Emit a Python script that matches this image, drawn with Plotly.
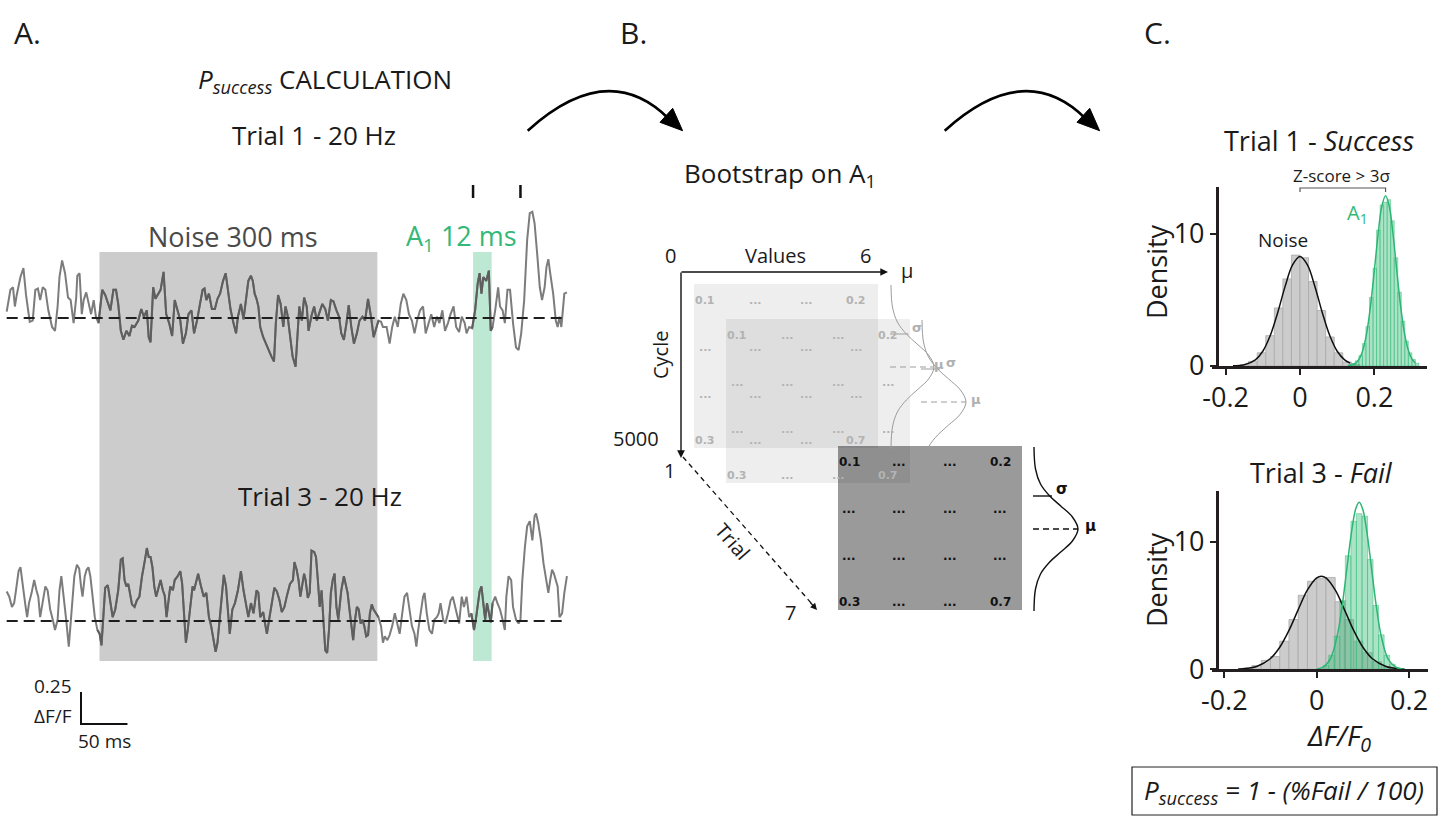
import plotly.graph_objects as go

W, H = 1448, 819
FONT = "Open Sans"
INK = "#1a1a1a"
GREEN = "#2bb673"
GREEN_TXT = "#33b878"

# ===================== DATA =====================
# Panel A - dF/F traces (time in ms, value in dF/F)
TRACE1_T = [7.2, 11.2, 14, 16, 18, 22, 25.2, 28, 32, 35.2,
            38, 40.8, 43.2, 46, 48.8, 52, 56, 59.2, 62, 64,
            66.8, 70, 73.2, 76, 79.2, 82, 83.2, 85.6, 88, 90,
            92.8, 95.2, 98, 100.8, 103.2, 106, 108, 110, 113.2, 116.8,
            118.8, 122, 124.8, 127.2, 130, 132.8, 136, 139.2, 142, 144.8,
            148.8, 152, 154.8, 158, 160, 162, 164.8, 167.2, 170, 172.8,
            176, 178.8, 182, 185.2, 188, 191.2, 194, 196.8, 200, 202.8,
            206, 208.8, 212, 215.2, 218, 220, 222, 224.8, 228, 231.2,
            234, 236.8, 240, 242.8, 245.2, 248, 251.2, 254, 256, 259.2,
            262, 264.8, 267.2, 270, 272, 274, 276, 278, 280, 283.2,
            286, 288.8, 292, 294.8, 296.8, 299.2, 302, 304.8, 307.2, 309.2,
            312, 314.8, 318, 320, 322, 324.8, 327.2, 330, 332, 335.2,
            338, 340.8, 344, 346.8, 350, 352.8, 356, 358.8, 362, 364.8,
            367.2, 370, 372.8, 375.2, 378, 380.8, 384, 386.8, 390, 392.8,
            396, 399.2, 402, 404.8, 407.2, 410, 412, 416, 419.2, 422,
            424.8, 428, 431.2, 434, 437.2, 440, 443.2, 446, 448.8, 452,
            455.2, 458, 460.8, 464, 467.2, 470, 472.8, 476, 478.8, 482,
            484.8, 488, 490.8, 494, 496.8, 500, 502, 504.8, 508, 511.2,
            514, 516, 518, 520, 523.2, 526, 528, 530, 532.8, 536,
            538, 540.8, 543.2, 546, 548.8, 552, 555.2, 558, 560.8, 564,
            567.2, 570, 572.8, 575.2, 578, 580.8, 583.2, 586, 588, 590,
            592, 595.2, 598, 600, 602, 604, 607.2, 610]
TRACE1_V = [0.05, 0.22, 0.24, 0.09, 0.18, 0.32, 0.39, 0.18, -0.03, -0.02,
            0.22, 0.23, 0.14, 0.24, 0.22, 0.06, -0.07, -0.10, 0.09, 0.32,
            0.45, 0.35, 0.16, 0.14, -0.04, 0.16, 0.33, 0.35, 0.03, 0.14,
            0.20, 0.11, 0.03, 0.14, 0.01, -0.04, 0.11, 0.22, 0.18, 0.10,
            0.06, 0.22, 0.22, 0.11, -0.10, -0.17, -0.10, -0.14, -0.06, -0.07,
            -0.02, 0.07, 0.01, 0.06, -0.15, -0.19, 0.24, 0.15, 0.19, 0.22,
            0.36, 0.03, -0.04, -0.14, 0.14, 0.06, -0.02, -0.20, -0.12, 0.03,
            0.06, -0.12, -0.02, 0.11, 0.22, 0.23, 0.14, 0.19, 0.07, 0.07,
            0.15, 0.19, 0.29, 0.35, 0.22, 0.07, -0.04, -0.12, 0.01, 0.11,
            -0.01, 0.16, 0.29, 0.33, 0.29, 0.19, 0.15, 0.09, -0.07, -0.15,
            -0.20, -0.25, -0.30, -0.34, -0.04, 0.18, 0.11, -0.07, 0.09, 0.03,
            -0.15, -0.30, -0.38, -0.10, 0.09, -0.02, 0.16, 0.09, -0.10, 0.02,
            0.09, -0.02, 0.06, 0.11, 0.07, -0.02, 0.14, 0.13, 0.06, 0.01,
            -0.12, -0.17, -0.04, 0.10, -0.07, -0.20, -0.12, -0.02, 0.01, -0.02,
            0.15, 0.01, -0.15, -0.07, -0.02, -0.03, -0.07, -0.07, -0.20, -0.07,
            0.01, -0.07, 0.11, 0.19, 0.14, 0.03, -0.02, -0.12, -0.02, 0.06,
            0.09, -0.12, -0.04, 0.03, -0.07, 0.01, -0.04, 0.06, -0.10, -0.04,
            0.03, 0.09, -0.07, -0.11, 0.01, -0.04, -0.12, -0.07, -0.08, 0.06,
            0.27, 0.35, 0.19, 0.32, 0.29, 0.37, -0.10, -0.07, 0.06, 0.24,
            0.09, 0.06, -0.04, 0.22, 0.22, -0.04, -0.23, -0.25, -0.12, 0.14,
            0.61, 0.82, 0.83, 0.74, 0.50, 0.24, 0.14, 0.24, 0.40, 0.46,
            0.35, 0.19, -0.02, -0.07, 0.01, -0.07, 0.19, 0.20]

TRACE3_T = [7.2, 10, 12.8, 15.2, 17.2, 20, 22, 24.8, 27.2, 29.2,
            31.2, 34, 36.8, 39.2, 41.2, 43.2, 46, 48.8, 51.2, 54,
            56.8, 59.2, 62, 64, 66, 68.8, 71.2, 74, 76, 78,
            80, 82.8, 85.2, 87.2, 88.8, 91.2, 93.2, 95.2, 97.2, 99.2,
            102, 104.8, 107.2, 109.2, 111.2, 113.2, 116, 118.8, 121.2, 124,
            127.2, 130, 132, 134, 136, 138, 140, 142, 144.8, 147.2,
            150, 152.8, 156, 158, 160, 162, 164, 166, 168, 170,
            172.8, 175.2, 177.2, 179.2, 180.8, 183.2, 186, 188, 191.2, 194,
            196, 198, 200, 202, 204.8, 207.2, 208.8, 211.2, 213.2, 216,
            219.2, 222, 224.8, 227.2, 230, 232, 234, 236.8, 239.2, 240.8,
            243.2, 244.8, 247.2, 250, 252.8, 256, 259.2, 262, 264.8, 267.2,
            270, 272.8, 276, 278, 280, 283.2, 285.2, 287.2, 290, 292.8,
            295.2, 298, 300.8, 303.2, 306, 308.8, 312, 315.2, 316.8, 319.2,
            321.2, 323.2, 324.8, 327.2, 328.8, 331.2, 333.2, 335.2, 338, 340,
            342, 344, 346, 348, 350, 352, 354, 356, 358, 360,
            362, 364, 367.2, 370, 372, 374, 376, 378, 380, 382,
            384, 386, 388, 390, 392, 394, 396, 398, 400, 402,
            404.8, 407.2, 410, 412, 414, 416.8, 419.2, 422, 424.8, 427.2,
            430, 432.8, 435.2, 438, 440, 443.2, 446, 448, 450, 452.8,
            455.2, 456.8, 459.2, 462, 464.8, 467.2, 470, 472, 474, 476.8,
            479.2, 482, 484.8, 487.2, 488.8, 491.2, 494, 496.8, 499.2, 502,
            504.8, 507.2, 510, 512, 514, 516, 518, 520, 522, 524,
            526, 528, 530, 532.8, 535.2, 538, 540.8, 543.2, 544.8, 547.2,
            550, 552, 555.2, 558, 560, 562, 564.8, 567.2, 570, 572.8,
            575.2, 576.8, 579.2, 582, 584.8, 587.2, 590, 592, 594, 596,
            598, 600, 602, 604.8, 607.2, 610]
TRACE3_V = [0.23, 0.19, 0.11, 0.14, 0.24, 0.39, 0.42, 0.24, 0.13, 0.03,
            0.14, 0.22, 0.32, 0.24, 0.19, 0.03, 0.16, 0.27, 0.24, 0.09,
            0.01, -0.07, 0.01, 0.24, 0.35, 0.19, 0.01, -0.20, 0.01, 0.19,
            0.35, 0.44, 0.41, 0.27, 0.19, 0.35, 0.40, 0.42, 0.35, 0.22,
            0.03, -0.07, -0.10, -0.19, 0.01, 0.26, 0.28, 0.14, 0.03, 0.09,
            0.24, 0.48, 0.49, 0.32, 0.27, 0.29, 0.19, 0.13, 0.11, 0.16,
            0.19, 0.35, 0.48, 0.57, 0.50, 0.50, 0.42, 0.27, 0.19, 0.24,
            0.32, 0.24, 0.20, 0.03, 0.11, 0.27, 0.24, 0.32, 0.35, 0.39,
            0.29, 0.06, -0.17, -0.07, 0.09, 0.27, 0.24, 0.32, 0.37, 0.28,
            0.19, 0.22, 0.03, -0.04, -0.15, -0.24, -0.17, 0.06, 0.24, 0.36,
            0.27, 0.14, -0.10, 0.09, 0.14, 0.24, 0.39, 0.24, 0.11, 0.03,
            0.14, 0.06, 0.24, 0.22, 0.03, 0.07, -0.02, -0.10, 0.03, 0.16,
            0.26, 0.23, 0.16, 0.07, 0.11, 0.20, 0.29, 0.32, 0.46, 0.40,
            0.32, 0.19, 0.27, 0.37, 0.32, 0.18, 0.22, 0.55, 0.54, 0.50,
            0.32, 0.11, 0.24, -0.02, -0.23, -0.25, -0.07, 0.22, 0.32, 0.37,
            0.11, 0.01, 0.24, 0.35, 0.27, 0.22, 0.09, -0.02, -0.15, 0.01,
            0.11, 0.09, -0.02, 0.01, -0.04, -0.12, -0.11, 0.06, 0.13, 0.09,
            0.06, 0.03, -0.04, -0.17, -0.12, -0.15, -0.11, -0.04, 0.06, -0.02,
            -0.10, 0.06, 0.19, 0.22, 0.11, -0.04, -0.10, -0.20, -0.07, 0.06,
            0.19, 0.22, 0.06, -0.07, -0.10, 0.01, 0.03, 0.06, 0.14, 0.01,
            -0.02, 0.06, 0.16, 0.19, 0.14, 0.06, -0.02, 0.19, 0.11, 0.19,
            0.03, 0.06, -0.07, 0.01, 0.14, 0.23, 0.27, 0.11, 0.01, 0.14,
            0.06, -0.01, 0.14, 0.19, 0.14, 0.09, 0.01, -0.07, 0.19, 0.35,
            0.32, 0.11, 0.01, -0.02, 0.01, 0.32, 0.58, 0.74, 0.78, 0.63,
            0.82, 0.84, 0.76, 0.63, 0.45, 0.35, 0.22, 0.32, 0.40, 0.37,
            0.32, 0.27, 0.03, 0.06, 0.22, 0.35]

NOISE_WIN_MS = [107, 406]      # 300 ms noise window
A1_WIN_MS = [509, 529]         # A1 window
STIM_MS = [509, 560]           # 20 Hz stimulation ticks
SCALE_MS = 50
SCALE_DFF = 0.25

# Panel B - bootstrap matrices (cell labels) and trial/cycle axes
MATRIX_VALUES = [["0.1", "...", "...", "0.2"],
                 ["...", "...", "...", "..."],
                 ["...", "...", "...", "..."],
                 ["0.3", "...", "...", "0.7"]]
VALUES_AXIS = ["0", "Values", "6"]
CYCLE_AXIS = ["5000", "1"]
TRIAL_AXIS = ["1", "7"]
# schematic gaussian profile beside each matrix (offset along y, bulge in x), px
GAUSS_DY = [-82, -60, -45, -33, -23, -12, 0, 12, 23, 33, 45, 60, 82]
GAUSS_DX = [0, 1.5, 6.5, 15.7, 26.7, 38.4, 44, 38.4, 26.7, 15.7, 6.5, 1.5, 0]

# Panel C - Trial 1 histograms (dF/F0, density)
T1_NOISE_BINW = 0.023
T1_NOISE_X = [-0.1495, -0.1265, -0.1035, -0.0805, -0.0575, -0.0345, -0.0115,
              0.0115, 0.0345, 0.0575, 0.0805, 0.1035, 0.1265, 0.1495]
T1_NOISE_Y = [0.1, 0.35, 1.0, 2.3, 4.4, 6.6, 8.4, 8.2, 6.4, 4.2, 2.2, 1.0, 0.3, 0.1]
T1_A1_BINW = 0.0095
T1_A1_X = [0.1345, 0.144, 0.1535, 0.163, 0.1725, 0.182, 0.1915, 0.201, 0.2105, 0.22,
           0.2295, 0.239, 0.2485, 0.258, 0.2675, 0.277, 0.2865, 0.296, 0.3055, 0.315]
T1_A1_Y = [0.1, 0.2, 0.4, 0.8, 1.7, 3.0, 5.2, 7.4, 10.3, 12.2,
           12.4, 12.6, 11.0, 8.2, 5.6, 3.4, 1.9, 1.0, 0.5, 0.2]
T1_NOISE_FIT_X = [-0.18, -0.15, -0.12, -0.10, -0.08, -0.06, -0.04, -0.02, 0.0,
                  0.02, 0.04, 0.06, 0.08, 0.10, 0.12, 0.135]
T1_NOISE_FIT_Y = [0.01, 0.09, 0.47, 1.12, 2.31, 4.04, 6.03, 7.66, 8.3,
                  7.66, 6.03, 4.04, 2.31, 1.12, 0.47, 0.22]
T1_A1_FIT_X = [0.13, 0.15, 0.16, 0.17, 0.18, 0.19, 0.20, 0.21, 0.22, 0.23,
               0.24, 0.25, 0.26, 0.27, 0.28, 0.29, 0.30, 0.31]
T1_A1_FIT_Y = [0.02, 0.22, 0.57, 1.3, 2.62, 4.65, 7.27, 10.0, 12.1, 12.9,
               12.1, 10.0, 7.27, 4.65, 2.62, 1.3, 0.57, 0.22]
T1_MEANS = [0.0, 0.23]

# Panel C - Trial 3 histograms
T3_NOISE_BINW = 0.02
T3_NOISE_X = [-0.15, -0.13, -0.11, -0.09, -0.07, -0.05, -0.03, -0.01, 0.01,
              0.03, 0.05, 0.07, 0.09, 0.11, 0.13, 0.15, 0.17]
T3_NOISE_Y = [0.1, 0.3, 0.7, 1.0, 2.2, 3.9, 5.8, 6.9, 7.1, 7.2, 5.3, 3.9, 2.2, 1.3, 0.6, 0.2, 0.1]
T3_A1_BINW = 0.012
T3_A1_X = [0.020, 0.032, 0.044, 0.056, 0.068, 0.080, 0.092, 0.104, 0.116, 0.128,
           0.140, 0.152, 0.164, 0.176]
T3_A1_Y = [0.3, 1.1, 2.6, 5.4, 8.9, 11.6, 12.2, 12.0, 8.6, 5.0, 2.7, 1.1, 0.4, 0.1]
T3_NOISE_FIT_X = [-0.17, -0.15, -0.13, -0.10, -0.08, -0.06, -0.04, -0.02, 0.0, 0.01,
                  0.02, 0.04, 0.06, 0.08, 0.10, 0.12, 0.15, 0.17, 0.19]
T3_NOISE_FIT_Y = [0.02, 0.08, 0.22, 0.85, 1.73, 3.05, 4.68, 6.22, 7.17, 7.3,
                  7.17, 6.22, 4.68, 3.05, 1.73, 0.85, 0.22, 0.08, 0.02]
T3_A1_FIT_X = [0.0, 0.015, 0.03, 0.045, 0.055, 0.065, 0.075, 0.085, 0.092, 0.10,
               0.11, 0.12, 0.13, 0.14, 0.155, 0.175, 0.19]
T3_A1_FIT_Y = [0.03, 0.19, 0.85, 2.72, 4.94, 7.8, 10.66, 12.65, 13.1, 12.5,
               10.4, 7.5, 4.69, 2.54, 0.78, 0.1, 0.01]

# ===================== LAYOUT GEOMETRY (pixels) =====================
def fx(p):
    return p / W

def fy(p):
    return 1 - p / H

PX_PER_MS = 0.9294
PX_PER_DFF = 128.0
TR_X_PX = (0, 580)
TOP_BASE, TOP_DOM = 318, (170, 382)
BOT_BASE, BOT_DOM = 621, (470, 745)
TRACE_LIGHT, TRACE_DARK = "#7c7c7c", "#5e5e5e"

fig = go.Figure()

# ---------- Panel A traces ----------
def window_part(ts, vs, win):
    # the part of a trace that lies inside an analysis window (drawn darker over the window)
    xs, ys = [], []
    for t, v in zip(ts, vs):
        if win[0] - 3 <= t <= win[1] + 3:
            xs.append(t)
            ys.append(v)
    return xs, ys

for ts, vs, ax, ay in ((TRACE1_T, TRACE1_V, "x2", "y2"), (TRACE3_T, TRACE3_V, "x3", "y3")):
    fig.add_trace(go.Scatter(x=ts, y=vs, xaxis=ax, yaxis=ay, mode="lines",
                             line=dict(color=TRACE_LIGHT, width=2), hoverinfo="skip"))
    for win in (NOISE_WIN_MS, A1_WIN_MS):
        wx, wy = window_part(ts, vs, win)
        fig.add_trace(go.Scatter(x=wx, y=wy, xaxis=ax, yaxis=ay, mode="lines",
                                 line=dict(color=TRACE_DARK, width=2), hoverinfo="skip"))
    fig.add_trace(go.Scatter(x=[ts[0], ts[-1]], y=[0, 0], xaxis=ax, yaxis=ay,
                             mode="lines", line=dict(color="#1e1e1e", width=2, dash="11px,6px")))

# stimulus ticks above trial 1
tick_lo, tick_hi = (TOP_BASE - 198) / PX_PER_DFF, (TOP_BASE - 185) / PX_PER_DFF
sx, sy = [], []
for s in STIM_MS:
    sx += [s, s, None]
    sy += [tick_lo, tick_hi, None]
fig.add_trace(go.Scatter(x=sx, y=sy, xaxis="x2", yaxis="y2", mode="lines",
                         line=dict(color="#111", width=2.5)))
# scale bar
sb_t0 = 81 / PX_PER_MS
sb_v0 = (BOT_BASE - 724) / PX_PER_DFF
fig.add_trace(go.Scatter(x=[sb_t0, sb_t0, sb_t0 + SCALE_MS], y=[sb_v0 + SCALE_DFF, sb_v0, sb_v0],
                         xaxis="x3", yaxis="y3", mode="lines", line=dict(color="#111", width=2)))

# ---------- Panel C histograms ----------
def hist(xs, ys, w, ax, ay, color, lcolor):
    fig.add_trace(go.Bar(x=xs, y=ys, width=w, xaxis=ax, yaxis=ay,
                         marker=dict(color=color, line=dict(color=lcolor, width=0.8))))

def fit(xs, ys, ax, ay, color):
    fig.add_trace(go.Scatter(x=xs, y=ys, xaxis=ax, yaxis=ay, mode="lines",
                             line=dict(color=color, width=1.5, shape="spline")))

hist(T1_NOISE_X, T1_NOISE_Y, T1_NOISE_BINW, "x4", "y4", "#cccccc", "#a9a9a9")
hist(T1_A1_X, T1_A1_Y, T1_A1_BINW, "x4", "y4", "rgba(46,184,114,0.40)", "rgba(46,184,114,0.55)")
fit(T1_NOISE_FIT_X, T1_NOISE_FIT_Y, "x4", "y4", "#111111")
fit(T1_A1_FIT_X, T1_A1_FIT_Y, "x4", "y4", GREEN)
hist(T3_NOISE_X, T3_NOISE_Y, T3_NOISE_BINW, "x5", "y5", "#cccccc", "#a9a9a9")
hist(T3_A1_X, T3_A1_Y, T3_A1_BINW, "x5", "y5", "rgba(46,184,114,0.40)", "rgba(46,184,114,0.55)")
fit(T3_NOISE_FIT_X, T3_NOISE_FIT_Y, "x5", "y5", "#111111")
fit(T3_A1_FIT_X, T3_A1_FIT_Y, "x5", "y5", GREEN)

# ---------- Panel B gaussians (overlay pixel axes) ----------
# (baseline x, centre y, bulge, line colour, label colour, width, mu label offset, sigma offset, label size)
GAUSS_ANCHORS = [(891, 367, 43, "#9c9c9c", "#b0b0b0", 1.0, 5, 26, 13),
                 (922, 402, 44, "#9c9c9c", "#b0b0b0", 1.0, 10, 29, 13),
                 (1034, 529, 44, "#111111", "#111111", 1.4, 12, 28, 15)]
annotations = []

def txt(x, y, s, size, color=INK, xanchor="center", yanchor="middle", angle=0, family=FONT):
    annotations.append(dict(x=x, y=y, xref="x", yref="y", text=s, showarrow=False,
                            font=dict(size=size, color=color, family=family),
                            xanchor=xanchor, yanchor=yanchor, textangle=angle))

for bx, cy, amp, lc, tc, lw, mu_dx, sg_dx, ls in GAUSS_ANCHORS:
    k = amp / 44.0
    fig.add_trace(go.Scatter(x=[bx + d * k for d in GAUSS_DX], y=[cy + d for d in GAUSS_DY],
                             mode="lines", line=dict(color=lc, width=lw, shape="spline"),
                             xaxis="x", yaxis="y"))
    fig.add_trace(go.Scatter(x=[bx - 1, bx + 18 * k], y=[cy - 33, cy - 33], mode="lines",
                             line=dict(color=lc, width=lw), xaxis="x", yaxis="y"))
    fig.add_trace(go.Scatter(x=[bx - 1, bx + amp], y=[cy, cy], mode="lines",
                             line=dict(color=lc, width=lw, dash="6px,4px"), xaxis="x", yaxis="y"))
    txt(bx + sg_dx, cy - 40, "<b>σ</b>", ls, tc, family="DejaVu Sans")
    txt(bx + amp + mu_dx, cy - 3, "<b>μ</b>", ls, tc, family="DejaVu Sans")

# ---------- shapes ----------
shapes = []
# panel A windows
shapes.append(dict(type="rect", xref="x2", yref="paper", x0=NOISE_WIN_MS[0], x1=NOISE_WIN_MS[1],
                   y0=fy(661), y1=fy(252), fillcolor="#cccccc", line=dict(width=0), layer="below"))
shapes.append(dict(type="rect", xref="x2", yref="paper", x0=A1_WIN_MS[0], x1=A1_WIN_MS[1],
                   y0=fy(661), y1=fy(252), fillcolor="#bde8d3", line=dict(width=0), layer="below"))

# panel B matrices: (left, top, fill, text colour, font size)
MAT_W, MAT_H = 184, 164
MAT_COLS = [11, 61, 112, 162]
MAT_ROWS = [16, 63, 110, 156]
MATRICES = [(838, 446, "#9a9a9a", "#111111", 12),
            (694, 284, "rgba(0,0,0,0.065)", "#b3b3b3", 11),
            (726, 319, "rgba(0,0,0,0.065)", "#b3b3b3", 11)]
for mx, my, fill, tcol, fs in MATRICES:
    shapes.append(dict(type="rect", xref="x", yref="y", x0=mx, x1=mx + MAT_W, y0=my, y1=my + MAT_H,
                       fillcolor=fill, line=dict(width=0), layer="below"))
    for r, row in enumerate(MATRIX_VALUES):
        for c, val in enumerate(row):
            txt(mx + MAT_COLS[c], my + MAT_ROWS[r], "<b>%s</b>" % val, fs, tcol, family="DejaVu Sans")

# curved arrows between panels
for dx in (0, 417):
    shapes.append(dict(type="path", xref="x", yref="y",
                       path="M %.1f,130.7 Q %.1f,58 %.1f,119" % (527.7 + dx, 608 + dx, 669 + dx),
                       line=dict(color="#000", width=2.6), layer="above"))
    shapes.append(dict(type="path", xref="x", yref="y",
                       path="M %.1f,130.7 L %.1f,108.3 L %.1f,122.3 Z" % (682.6 + dx, 672.7 + dx, 660 + dx),
                       fillcolor="#000", line=dict(color="#000", width=1), layer="above"))
# dashed trial axis
shapes.append(dict(type="line", xref="x", yref="y", x0=683, y0=457, x1=812, y1=604,
                   line=dict(color="#111", width=1.3, dash="5px,4px")))
# bracket between means (top histogram)
shapes.append(dict(type="path", xref="x4", yref="y",
                   path="M %g,192 L %g,188 L %g,188 L %g,192" % (T1_MEANS[0], T1_MEANS[0], T1_MEANS[1], T1_MEANS[1]),
                   line=dict(color="#555", width=1.2)))
# formula box
shapes.append(dict(type="rect", xref="x", yref="y", x0=1132, x1=1437, y0=767, y1=815,
                   line=dict(color="#222", width=1.2), fillcolor="rgba(0,0,0,0)"))

# arrows for values / cycle axes
def arrow(x, y, ax, ay, w=1.4):
    annotations.append(dict(x=x, y=y, ax=ax, ay=ay, xref="x", yref="y", axref="x", ayref="y",
                            text="", showarrow=True, arrowhead=2, arrowsize=1.1, arrowwidth=w,
                            arrowcolor="#111", standoff=0))

arrow(888, 272, 680, 272)
arrow(681, 458, 681, 271)
arrow(817, 610, 809, 601, 1.2)

# ---------- texts ----------
# panel letters
txt(27, 32, "A.", 30)
txt(633, 32, "B.", 30)
txt(1157, 32, "C.", 30)
# panel A
txt(196, 80, "<i>P<sub>success</sub></i> CALCULATION", 26, xanchor="left")
txt(314, 135, "Trial 1 - 20 Hz", 26)
txt(233, 236, "Noise 300 ms", 27, "#4a4a4a")
txt(404, 237, "A<sub>1</sub> 12 ms", 27, GREEN_TXT, xanchor="left")
txt(320, 496, "Trial 3 - 20 Hz", 26)
txt(74, 686, "0.25", 19, xanchor="right")
txt(74, 716, "ΔF/F", 19, xanchor="right")
txt(104, 741, "50 ms", 19)
# panel B
txt(780, 174, "Bootstrap on A<sub>1</sub>", 26)
txt(670, 255, VALUES_AXIS[0], 20)
txt(775, 255, VALUES_AXIS[1], 20)
txt(865, 255, VALUES_AXIS[2], 20)
txt(907, 270, "μ", 20)
txt(660, 355, "Cycle", 20, angle=-90)
txt(661, 438, CYCLE_AXIS[0], 20, xanchor="right")
txt(669, 470, CYCLE_AXIS[1], 20)
txt(733, 541, "Trial", 20, angle=49)
txt(790, 612, TRIAL_AXIS[1], 20)
# panel C
txt(1319, 140, "Trial 1 - <i>Success</i>", 27)
txt(1341, 175, "Z-score &gt; 3σ", 17)
txt(1283, 240, "Noise", 19)
txt(1357, 213, "A<sub>1</sub>", 20, GREEN_TXT)
txt(1156, 272, "Density", 27, angle=-90)
txt(1321, 472, "Trial 3 - <i>Fail</i>", 27)
txt(1156, 580, "Density", 27, angle=-90)
txt(1339, 737, "<i>ΔF/F<sub>0</sub></i>", 28)
txt(1284, 791, "<i>P<sub>success</sub> = 1 - (%Fail / 100)</i>", 26)

# ===================== AXES =====================
hidden = dict(visible=False, showgrid=False, zeroline=False, fixedrange=True, automargin=False)
AX_COL = "#231f20"
X_OVERHANG = 5   # x axis line starts a little left of the y axis

def hist_x(dom_px, zero_px, px_per_unit, anchor):
    d0 = dom_px[0] - X_OVERHANG
    return dict(domain=[fx(d0), fx(dom_px[1])],
                range=[(d0 - zero_px) / px_per_unit, (dom_px[1] - zero_px) / px_per_unit],
                anchor=anchor, showline=True, linecolor=AX_COL, linewidth=2.5,
                ticks="outside", ticklen=6, tickwidth=2, tickcolor=AX_COL,
                tickvals=[-0.2, 0, 0.2], ticktext=["-0.2", "0", "0.2"],
                tickfont=dict(size=27, color=INK, family=FONT), automargin=False,
                showgrid=False, zeroline=False, fixedrange=True)

def hist_y(base_px, top_px, px_per_unit, axis_x_px):
    return dict(domain=[fy(base_px), fy(top_px)], range=[0, (base_px - top_px) / px_per_unit],
                anchor="free", position=fx(axis_x_px), showline=True, linecolor=AX_COL, linewidth=2.5,
                ticks="outside", ticklen=6, tickwidth=2, tickcolor=AX_COL,
                tickvals=[0, 10], ticktext=["0", "10"],
                tickfont=dict(size=27, color=INK, family=FONT), automargin=False,
                showgrid=False, zeroline=False, fixedrange=True)

fig.update_layout(
    template="none",
    width=W, height=H, autosize=False, margin=dict(l=0, r=0, t=0, b=0, pad=0),
    paper_bgcolor="white", plot_bgcolor="rgba(0,0,0,0)",
    showlegend=False, barmode="overlay",
    font=dict(family=FONT, color=INK),
    xaxis=dict(domain=[0, 1], range=[0, W], anchor="y", **hidden),
    yaxis=dict(domain=[0, 1], range=[H, 0], anchor="x", **hidden),
    xaxis2=dict(domain=[fx(TR_X_PX[0]), fx(TR_X_PX[1])],
                range=[TR_X_PX[0] / PX_PER_MS, TR_X_PX[1] / PX_PER_MS], anchor="y2", **hidden),
    yaxis2=dict(domain=[fy(TOP_DOM[1]), fy(TOP_DOM[0])],
                range=[(TOP_BASE - TOP_DOM[1]) / PX_PER_DFF, (TOP_BASE - TOP_DOM[0]) / PX_PER_DFF],
                anchor="x2", **hidden),
    xaxis3=dict(domain=[fx(TR_X_PX[0]), fx(TR_X_PX[1])],
                range=[TR_X_PX[0] / PX_PER_MS, TR_X_PX[1] / PX_PER_MS], anchor="y3", **hidden),
    yaxis3=dict(domain=[fy(BOT_DOM[1]), fy(BOT_DOM[0])],
                range=[(BOT_BASE - BOT_DOM[1]) / PX_PER_DFF, (BOT_BASE - BOT_DOM[0]) / PX_PER_DFF],
                anchor="x3", **hidden),
    xaxis4=hist_x((1216.7, 1426.7), 1300.0, 372.0, "y4"),
    yaxis4=hist_y(366.0, 186.7, 13.2, 1216.7),
    xaxis5=hist_x((1216.7, 1428.3), 1316.7, 462.0, "y5"),
    yaxis5=hist_y(669.3, 490.7, 12.76, 1216.7),
    shapes=shapes,
    annotations=annotations,
)

fig.write_html("out.html", config={"displayModeBar": False},
               post_script="document.body.style.margin='0';")
